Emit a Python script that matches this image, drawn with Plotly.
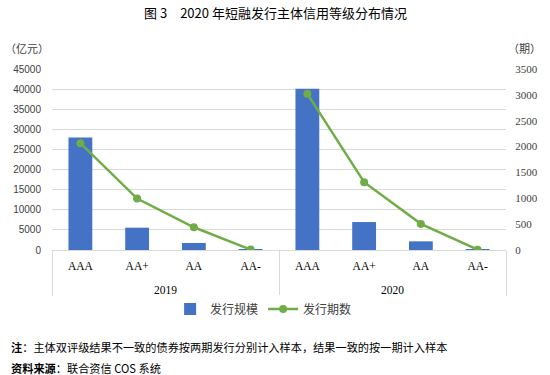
import plotly.graph_objects as go

years = ["2019", "2019", "2019", "2019", "2020", "2020", "2020", "2020"]
grades = ["AAA", "AA+", "AA", "AA-", "AAA", "AA+", "AA", "AA-"]
scale = [28000, 5550, 1750, 40, 40100, 6950, 2150, 30]      # 发行规模 (亿元)
count = [2065, 995, 440, 8, 3020, 1310, 505, 6]              # 发行期数 (期)

title = "图 3　2020 年短融发行主体信用等级分布情况"
note1 = "<b>注</b>：主体双评级结果不一致的债券按两期发行分别计入样本，结果一致的按一期计入样本"
note2 = "<b>资料来源</b>：联合资信 COS 系统"

W, H = 550, 375
L, R, T, B = 52, 41, 69, 125
pw, ph = W - L - R, H - T - B

def px_x(x):
    return (x - L) / pw

def px_y(y):
    return (H - B - y) / ph

cjk = "Noto Sans CJK SC"

# year labels shown one line lower, as in the reference
year_lbl = ["<br>" + y for y in years]

fig = go.Figure()
fig.add_trace(go.Bar(
    x=[year_lbl, grades], y=scale, name="发行规模",
    marker=dict(color="#4472C4", line=dict(width=0)),
))
for yr, show in (("2019", True), ("2020", False)):
    idx = [i for i, v in enumerate(years) if v == yr]
    fig.add_trace(go.Scatter(
        x=[[year_lbl[i] for i in idx], [grades[i] for i in idx]],
        y=[count[i] for i in idx],
        name="发行期数", legendgroup="cnt", showlegend=show, yaxis="y2",
        mode="lines+markers",
        line=dict(color="#70AD47", width=2.5),
        marker=dict(color="#70AD47", size=8),
    ))

fig.update_layout(
    width=W, height=H,
    margin=dict(l=L, r=R, t=T, b=B),
    paper_bgcolor="white", plot_bgcolor="white",
    bargap=0.58,
    showlegend=True,
    legend=dict(orientation="h", x=px_x(265), xanchor="center",
                y=px_y(309), yanchor="middle",
                font=dict(family=cjk, size=12, color="#404040"),
                traceorder="normal"),
    xaxis=dict(
        type="multicategory",
        showline=True, linecolor="#d9d9d9", linewidth=1,
        showdividers=True, dividercolor="#d9d9d9", dividerwidth=1,
        tickfont=dict(family="Liberation Serif", size=11.5, color="#000000"),
        ticks="", showgrid=False, ticklabelstandoff=5,
    ),
    yaxis=dict(
        range=[0, 45000], dtick=5000, tickformat="d",
        showgrid=True, gridcolor="#d9d9d9", gridwidth=1,
        zeroline=False, showline=False,
        tickfont=dict(family="Liberation Sans", size=10, color="#404040"),
        ticks="outside", ticklen=8, tickcolor="white",
    ),
    yaxis2=dict(
        range=[0, 3500], dtick=500, tickformat="d",
        overlaying="y", side="right",
        showgrid=False, zeroline=False, showline=False,
        tickfont=dict(family="Liberation Serif", size=11, color="#404040"),
        ticks="outside", ticklen=6, tickcolor="white",
    ),
    annotations=[
        dict(text=title, xref="paper", yref="paper", x=px_x(277), y=px_y(12),
             xanchor="center", yanchor="middle", showarrow=False,
             font=dict(family=cjk, size=13, color="#000000")),
        dict(text="（亿元）", xref="paper", yref="paper", x=px_x(3), y=px_y(48),
             xanchor="left", yanchor="middle", showarrow=False,
             font=dict(family=cjk, size=11, color="#404040")),
        dict(text="（期）", xref="paper", yref="paper", x=px_x(546), y=px_y(48),
             xanchor="right", yanchor="middle", showarrow=False,
             font=dict(family=cjk, size=11, color="#404040")),
        dict(text=note1, xref="paper", yref="paper", x=px_x(9), y=px_y(347),
             xanchor="left", yanchor="middle", showarrow=False,
             font=dict(family=cjk, size=11.2, color="#000000")),
        dict(text=note2, xref="paper", yref="paper", x=px_x(9), y=px_y(368),
             xanchor="left", yanchor="middle", showarrow=False,
             font=dict(family=cjk, size=11.2, color="#000000")),
    ],
)

fig.write_html("out.html", config={"displayModeBar": False},
               post_script="document.body.style.margin='0';document.body.style.overflow='hidden';")
